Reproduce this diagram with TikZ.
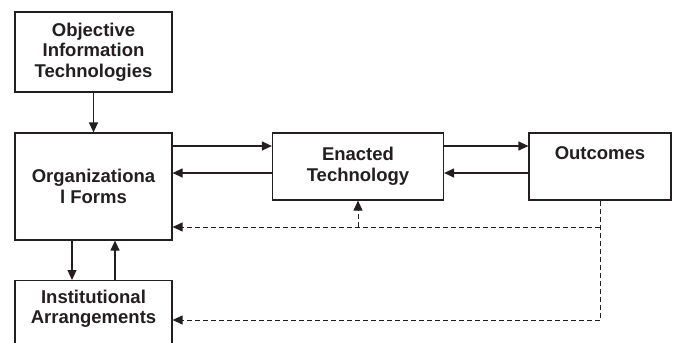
\documentclass[tikz,border=0pt]{standalone}
\usepackage{fontspec}
\setmainfont{Liberation Sans}
\usetikzlibrary{arrows.meta}
\definecolor{ink}{HTML}{231F20}
\begin{document}
\begin{tikzpicture}[x=1pt,y=-1pt,
  box/.style={draw=ink,line width=1.2pt,inner sep=0pt,
    font=\fontsize{18.5}{20.5}\selectfont\bfseries,text=ink,align=center},
  txt/.style={inner sep=0pt,font=\fontsize{18.5}{20.5}\selectfont\bfseries,text=ink,align=center},
  arr/.style={draw=ink,line width=1.2pt,-{Triangle[length=10pt,width=9pt]}},
  dsh/.style={draw=ink,line width=1pt,dash pattern=on 5pt off 3pt},
  dsharr/.style={dsh,-{Triangle[length=10pt,width=9pt]}}]
\clip (0,0) rectangle (673,343);
\node[box,minimum width=157,minimum height=80] (obj) at (93.5,52) {Objective\\Information\\Technologies};
\node[box,minimum width=157,minimum height=107] (org) at (93.5,186.5) {Organizationa\\l Forms};
\node[box,minimum width=157,minimum height=70,anchor=north] (inst) at (93.5,280) {};
\node[txt] (insttext) at (93.5,309) {Institutional\\Arrangements};
\node[box,minimum width=171,minimum height=67] (enact) at (358,166.5) {Enacted\\Technology};
\node[box,minimum width=142,minimum height=67] (outc) at (600,166.5) {};
\node[txt] (outctext) at (600,153) {Outcomes};
% solid arrows
\draw[arr] (obj.south) -- (org.north);
\coordinate (e1) at ([yshift=20.5pt]enact.west);
\coordinate (e2) at ([yshift=-6.5pt]enact.west);
\draw[arr] (e1 -| org.east) -- (e1);
\draw[arr] (e2) -- (e2 -| org.east);
\coordinate (o1) at ([yshift=20.5pt]outc.west);
\coordinate (o2) at ([yshift=-6.5pt]outc.west);
\draw[arr] (o1 -| enact.east) -- (o1);
\draw[arr] (o2) -- (o2 -| enact.east);
\coordinate (v1) at (72,260);
\coordinate (v2) at (115,260);
\draw[arr] (v1 |- org.south) -- (v1 |- inst.north);
\draw[arr] (v2 |- inst.north) -- (v2 |- org.south);
% dashed feedback
\coordinate (j1) at (600,227);
\coordinate (j2) at (600,320);
\draw[dsh] (outc.south) -- (j2);
\draw[dsharr] (j1) -- (j1 -| org.east);
\draw[dsharr] (enact.south |- j1) -- (enact.south);
\draw[dsharr] (j2) -- (j2 -| inst.east);
\end{tikzpicture}
\end{document}
